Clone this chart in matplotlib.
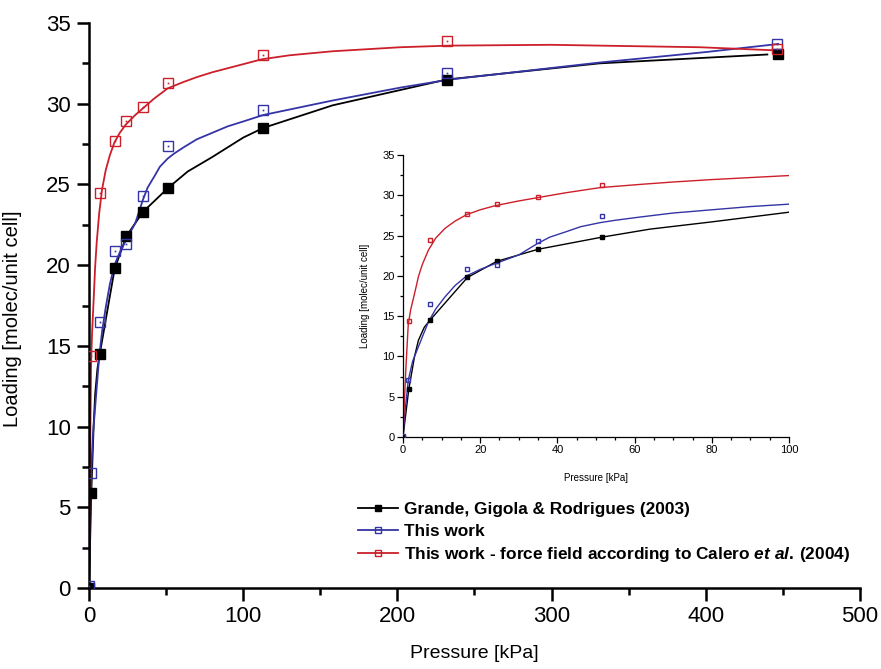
import matplotlib
matplotlib.use("Agg")
import matplotlib.pyplot as plt
from matplotlib.ticker import MultipleLocator
from matplotlib.lines import Line2D

plt.rcParams['font.family'] = ['Liberation Sans', 'DejaVu Sans']
plt.rcParams['mathtext.fontset'] = 'custom'
plt.rcParams['mathtext.rm'] = 'Liberation Sans:bold'
plt.rcParams['mathtext.it'] = 'Liberation Sans:bold:italic'

# ---------------- data (pressure in kPa, loading in molec/unit cell) -------------
grande_p = [0, 1.5, 7, 16.7, 24.3, 35, 51.5, 113, 232, 447]
grande_n = [0, 5.9, 14.5, 19.8, 21.8, 23.3, 24.8, 28.5, 31.5, 33.1]

this_p = [0, 1.3, 7, 16.7, 24.3, 35, 51.5, 113, 232, 446]
this_n = [0.1, 7.1, 16.5, 20.9, 21.3, 24.3, 27.4, 29.6, 31.9, 33.7]

calero_p = [1.5, 7, 16.7, 24.3, 35, 51.5, 113, 232, 446]
calero_n = [14.4, 24.5, 27.7, 28.9, 29.8, 31.3, 33.0, 33.9, 33.4]

# curves
grande_curve_p = [0, 1.5, 3, 4, 5.5, 7, 16.7, 24.3, 35, 51.5, 64, 80, 100, 113, 158, 232, 331, 440]
grande_curve_n = [0, 5.9, 10.0, 12.0, 13.6, 14.5, 19.8, 21.8, 23.3, 24.8, 25.8, 26.7, 27.9, 28.5, 29.9, 31.5, 32.5, 33.05]

this_curve_p = [0, 0.5, 1.4, 2.5, 4.0, 5.5, 6.6, 8.5, 10.9, 13.5, 16.5, 20, 23.8, 30, 34.8,
                38, 42.4, 46, 51, 55, 61.4, 70, 80, 90, 100, 113, 158, 202, 234, 331, 400, 447]
this_curve_n = [0, 3.0, 7.1, 9.4, 11.2, 13.0, 14.3, 15.9, 17.4, 18.8, 20.0, 20.8, 21.5, 22.6, 24.0,
                24.8, 25.5, 26.1, 26.6, 26.9, 27.3, 27.8, 28.2, 28.6, 28.9, 29.3, 30.2, 31.0, 31.5, 32.55, 33.2, 33.7]

calero_curve_p = [0, 0.3, 0.7, 1.37, 2.0, 3.0, 4.0, 5.0, 6.6, 8.5, 10.9, 13.5, 16.5, 20, 23.8, 30,
                  34.8, 42, 51, 61.4, 70, 80, 90, 100, 112, 130, 158, 202, 234, 300, 331, 396, 447]
calero_curve_n = [0, 3.5, 8.0, 14.0, 15.8, 17.8, 19.9, 21.4, 23.2, 24.7, 25.9, 26.8, 27.6, 28.2, 28.7, 29.3,
                  29.7, 30.3, 30.95, 31.35, 31.65, 31.95, 32.2, 32.45, 32.75, 33.0, 33.25, 33.5, 33.6, 33.65,
                  33.6, 33.5, 33.3]

labels = ["Grande, Gigola & Rodrigues (2003)",
          "This work",
          "This work - force field according to Calero $\\it{et\\ al.}\\,$(2004)"]

RED = '#cc1f2a'
BLUE = '#3434a6'
BLACK = '#000000'

fig = plt.figure(figsize=(8.81, 6.69), dpi=100)
ax = fig.add_axes([0.101, 0.121, 0.875, 0.8446])


def draw(a, ms, lw, dotms):
    a.plot(grande_curve_p, grande_curve_n, color=BLACK, lw=lw, zorder=2)
    a.plot(this_curve_p, this_curve_n, color=BLUE, lw=lw, zorder=2)
    a.plot(calero_curve_p, calero_curve_n, color=RED, lw=lw, zorder=2)
    a.plot(grande_p, grande_n, ls='none', marker='s', ms=ms, mfc=BLACK, mec=BLACK, zorder=3)
    a.plot(this_p, this_n, ls='none', marker='s', ms=ms, mfc='none', mec=BLUE, mew=1.0, zorder=3)
    a.plot(calero_p, calero_n, ls='none', marker='s', ms=ms, mfc='none', mec=RED, mew=1.0, zorder=3)
    if dotms:
        a.plot(this_p, this_n, ls='none', marker='s', ms=dotms, mfc=BLUE, mec='none', zorder=3)
        a.plot(calero_p, calero_n, ls='none', marker='s', ms=dotms, mfc=RED, mec='none', zorder=3)


draw(ax, 7.8, 1.3, 1.2)

ax.set_xlim(0, 500)
ax.set_ylim(0, 35)
ax.xaxis.set_major_locator(MultipleLocator(100))
ax.xaxis.set_minor_locator(MultipleLocator(50))
ax.yaxis.set_major_locator(MultipleLocator(5))
ax.yaxis.set_minor_locator(MultipleLocator(2.5))
for s in ['top', 'right']:
    ax.spines[s].set_visible(False)
for s in ['left', 'bottom']:
    ax.spines[s].set_linewidth(1.8)
ax.tick_params(which='major', direction='out', length=9, width=1.8, labelsize=16, pad=4)
ax.tick_params(which='minor', direction='out', length=5, width=1.8)
ax.set_xlabel("Pressure [kPa]", fontsize=14)
ax.set_ylabel("Loading [molec/unit cell]", fontsize=14.5)
ax.xaxis.set_label_coords(0.5, -0.100)
ax.yaxis.set_label_coords(-0.087, 0.476)

# legend
handles = [
    Line2D([], [], color=BLACK, lw=1.3, marker='s', ms=4.5, mfc=BLACK, mec=BLACK),
    Line2D([], [], color=BLUE, lw=1.3, marker='s', ms=4.5, mfc='none', mec=BLUE, mew=1.0),
    Line2D([], [], color=RED, lw=1.3, marker='s', ms=4.5, mfc='none', mec=RED, mew=1.0),
]
fig.legend(handles, labels, loc='upper left', bbox_to_anchor=(358 / 881, 1 - 502 / 669),
           frameon=False, handlelength=2.35, handletextpad=0.3, labelspacing=0.38,
           borderaxespad=0, borderpad=0, prop={'size': 12.4, 'weight': 'bold'})

# inset
axi = fig.add_axes([0.4574, 0.3468, 0.4382, 0.4215])
draw(axi, 3.4, 1.0, 0)
axi.set_xlim(0, 100)
axi.set_ylim(0, 35)
axi.xaxis.set_major_locator(MultipleLocator(20))
axi.xaxis.set_minor_locator(MultipleLocator(5))
axi.yaxis.set_major_locator(MultipleLocator(5))
axi.yaxis.set_minor_locator(MultipleLocator(2.5))
for s in ['top', 'right']:
    axi.spines[s].set_visible(False)
for s in ['left', 'bottom']:
    axi.spines[s].set_linewidth(0.9)
axi.tick_params(which='major', direction='out', length=4, width=0.9, labelsize=8, pad=2)
axi.tick_params(which='minor', direction='out', length=2.5, width=0.9)
axi.set_xlabel("Pressure [kPa]", fontsize=7)
axi.set_ylabel("Loading [molec/unit cell]", fontsize=7)
axi.xaxis.set_label_coords(0.5, -0.127)
axi.yaxis.set_label_coords(-0.085, 0.5)

fig.savefig("out.png", dpi=100)
